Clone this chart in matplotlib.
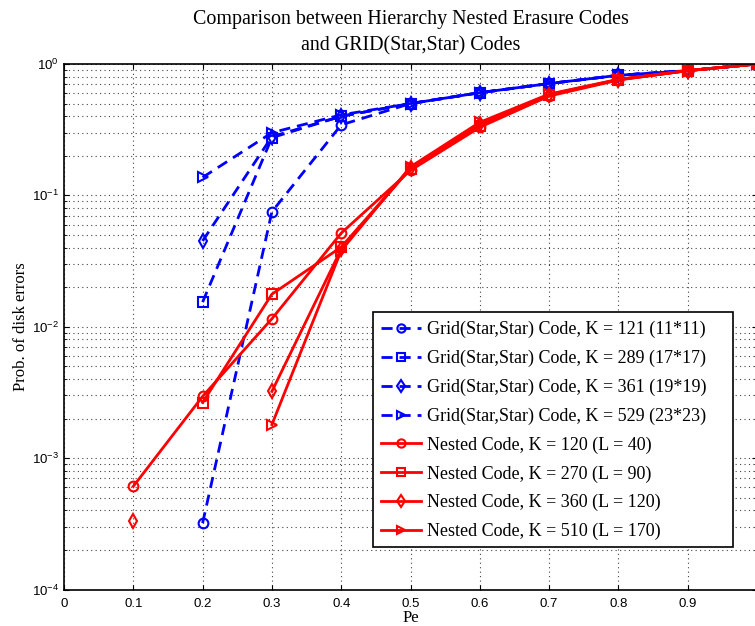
import numpy as np
import matplotlib
matplotlib.use("Agg")
import matplotlib.pyplot as plt
from matplotlib.patches import Rectangle

nan = np.nan
pe = [0.1, 0.2, 0.3, 0.4, 0.5, 0.6, 0.7, 0.8, 0.9, 1.0]

grid_121 = [nan, 3.2e-4, 0.075, 0.344, 0.50, 0.605, 0.71, 0.82, 0.89, 1.0]
grid_289 = [nan, 0.0154, 0.275, 0.40, 0.50, 0.605, 0.71, 0.82, 0.89, 1.0]
grid_361 = [nan, 0.045, 0.28, 0.40, 0.50, 0.605, 0.71, 0.82, 0.89, 1.0]
grid_529 = [nan, 0.137, 0.30, 0.41, 0.50, 0.605, 0.71, 0.82, 0.89, 1.0]

nested_120 = [6.1e-4, 2.95e-3, 0.0115, 0.0516, 0.155, 0.33, 0.57, 0.755, 0.89, 1.0]
nested_270 = [nan, 2.65e-3, 0.0177, 0.0404, 0.16, 0.34, 0.58, 0.76, 0.89, 1.0]
nested_360 = [3.35e-4, nan, 3.22e-3, 0.039, 0.162, 0.35, 0.585, 0.76, 0.89, 1.0]
nested_510 = [nan, nan, 1.8e-3, 0.038, 0.165, 0.36, 0.59, 0.765, 0.89, 1.0]

grid_labels = ["Grid(Star,Star) Code, K = 121 (11*11)",
               "Grid(Star,Star) Code, K = 289 (17*17)",
               "Grid(Star,Star) Code, K = 361 (19*19)",
               "Grid(Star,Star) Code, K = 529 (23*23)"]
nested_labels = ["Nested Code, K = 120 (L = 40)",
                 "Nested Code, K = 270 (L = 90)",
                 "Nested Code, K = 360 (L = 120)",
                 "Nested Code, K = 510 (L = 170)"]
markers = ["o", "s", "d", ">"]

plt.rcParams["mathtext.default"] = "regular"
serif = "Liberation Serif"
sans = "Liberation Sans"

fig = plt.figure(figsize=(7.55, 6.26), dpi=100)
ax = fig.add_axes([64 / 755, 1 - 589.5 / 626, 693 / 755, 525.5 / 626])

for ys, lab, m in zip([grid_121, grid_289, grid_361, grid_529], grid_labels, markers):
    ax.plot(pe, ys, color="blue", linestyle=(0, (4, 2.5)), linewidth=2,
            marker=m, markersize=7, markerfacecolor="none",
            markeredgewidth=1.5, label=lab)

for ys, lab, m in zip([nested_120, nested_270, nested_360, nested_510], nested_labels, markers):
    ax.plot(pe, ys, color="red", linestyle="-", linewidth=2,
            marker=m, markersize=7, markerfacecolor="none",
            markeredgewidth=1.5, label=lab)

ax.set_yscale("log")
ax.set_xlim(0, 1)
ax.set_ylim(1e-4, 1)
ax.set_xticks(np.arange(0, 1.0, 0.1))
ax.set_xticklabels(["0", "0.1", "0.2", "0.3", "0.4", "0.5", "0.6", "0.7", "0.8", "0.9"])

ax.grid(True, which="major", axis="x", linestyle=(0, (1, 3)), color="#444444", linewidth=0.8)
ax.grid(True, which="both", axis="y", linestyle=(0, (1, 3)), color="#444444", linewidth=0.8)

ax.tick_params(which="both", direction="in", top=True, right=True, labelsize=9.5)
ax.tick_params(axis="x", pad=6)
for lbl in ax.get_xticklabels() + ax.get_yticklabels():
    lbl.set_fontfamily(sans)
for sp in ax.spines.values():
    sp.set_linewidth(1.2)

ax.set_xlabel("Pe", fontfamily=serif, fontsize=12, labelpad=0)
ax.set_ylabel("Prob. of disk errors", fontfamily=serif, fontsize=12, labelpad=2)
ax.set_title("Comparison between Hierarchy Nested Erasure Codes\nand GRID(Star,Star) Codes",
             fontfamily=serif, fontsize=14.4, pad=10, linespacing=1.45)

# legend box, MATLAB style (wider than its contents)
box = Rectangle((0.446, 0.081), 0.519, 0.447, transform=ax.transAxes,
                facecolor="white", edgecolor="black", linewidth=1.2, zorder=5)
ax.add_patch(box)

leg = ax.legend(loc="upper left", bbox_to_anchor=(0.458, 0.511), borderaxespad=0,
                frameon=False, prop={"family": serif, "size": 13}, handlelength=2.2,
                labelspacing=0.64, borderpad=0, handletextpad=0.3, markerscale=0.85)
leg.set_zorder(6)

fig.savefig("out.png", dpi=100)
